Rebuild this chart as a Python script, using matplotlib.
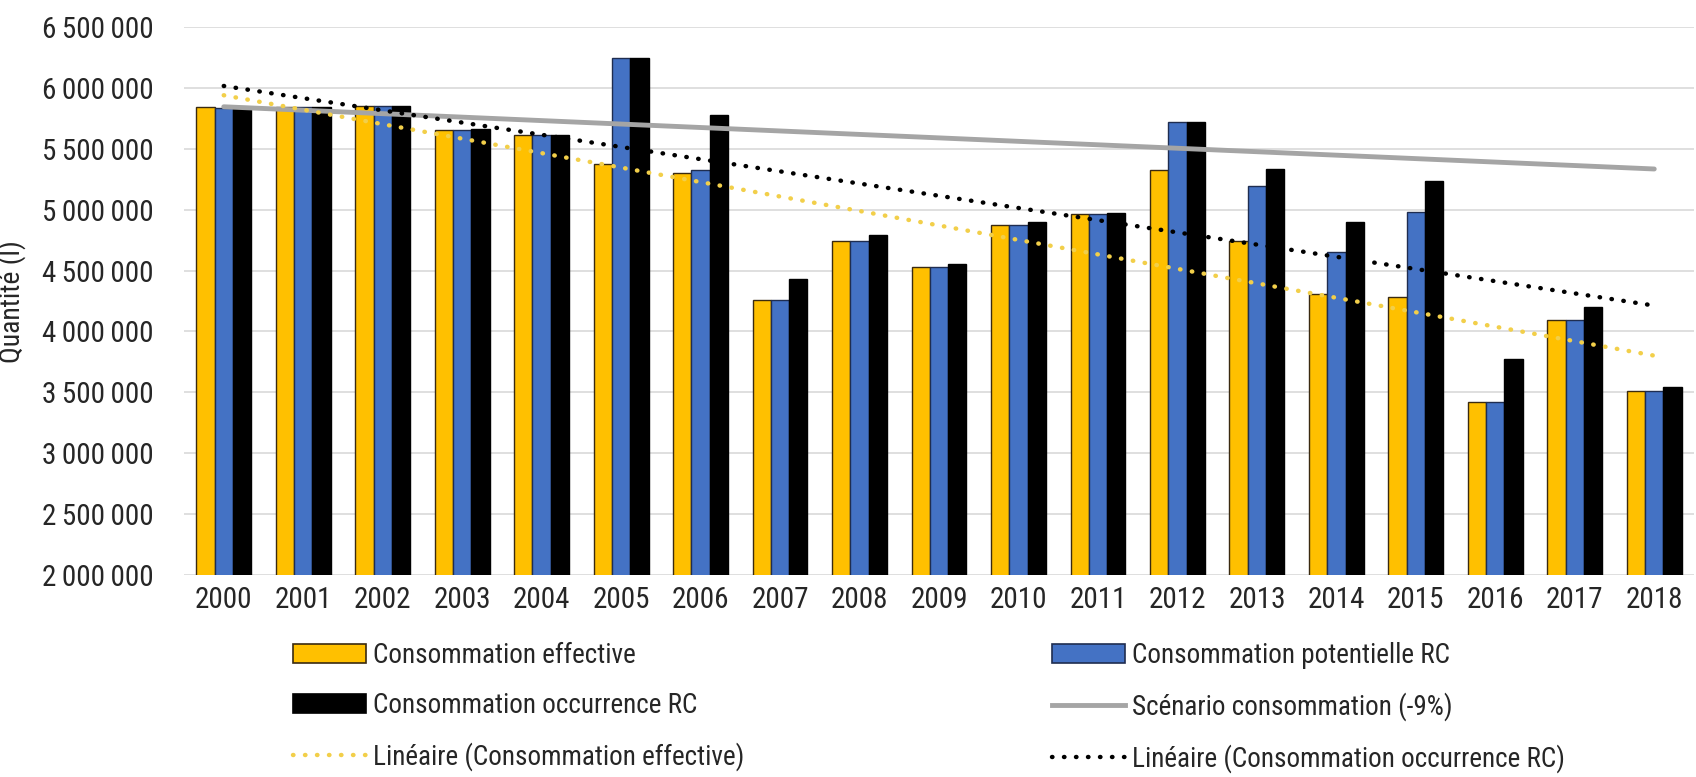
import numpy as np
import matplotlib
matplotlib.use("Agg")
import matplotlib.pyplot as plt
from matplotlib.patches import Patch
from matplotlib.lines import Line2D

plt.rcParams['font.family'] = ['Roboto Condensed', 'Liberation Sans Narrow', 'DejaVu Sans Condensed', 'Roboto', 'DejaVu Sans']

years = [str(y) for y in range(2000, 2019)]
conso_effective = [5840000, 5845000, 5855000, 5654000, 5616000, 5375000, 5299000, 4258000, 4745000, 4532000,
                   4874000, 4962000, 5326000, 4745000, 4308000, 4280000, 3418000, 4094000, 3511000]
conso_potentielle = [5835000, 5845000, 5855000, 5654000, 5612000, 6243000, 5326000, 4258000, 4745000, 4532000,
                     4874000, 4962000, 5717000, 5194000, 4655000, 4984000, 3418000, 4094000, 3511000]
conso_occurrence = [5835000, 5845000, 5855000, 5660000, 5616000, 6243000, 5778000, 4428000, 4789000, 4551000,
                    4896000, 4970000, 5717000, 5331000, 4896000, 5238000, 3771000, 4203000, 3544000]
scenario_years_idx = [0, 18]
scenario_values = [5845000, 5334000]

y_ticks = [2000000, 2500000, 3000000, 3500000, 4000000, 4500000, 5000000, 5500000, 6000000, 6500000]

YELLOW = '#FFC000'
BLUE = '#4472C4'
BLACK = '#000000'
GREY = '#A5A5A5'
TXT = '#262626'
DOT = (0, (0.1, 2.6))

fig = plt.figure(figsize=(16.96, 7.77), dpi=100)
ax = fig.add_axes([184/1696, 1-575/777, 1510/1696, (575-27)/777])

x = np.arange(len(years))
w = 0.23
ec = '#3a2a10'
ax.bar(x - w, conso_effective, w, color=YELLOW, edgecolor=ec, linewidth=1.0, zorder=2)
ax.bar(x, conso_potentielle, w, color=BLUE, edgecolor='#1f2d50', linewidth=1.0, zorder=2)
ax.bar(x + w, conso_occurrence, w, color=BLACK, edgecolor=BLACK, linewidth=1.0, zorder=2)

ax.plot(scenario_years_idx, scenario_values, color=GREY, linewidth=3.5, solid_capstyle='round', zorder=3)

# Linear trendlines (least squares, like Excel)
pe = np.polyfit(x, conso_effective, 1)
po = np.polyfit(x, conso_occurrence, 1)
ax.plot(x, np.polyval(pe, x), color='#F2CF4A', linestyle=DOT, linewidth=3.2,
        dash_capstyle='round', zorder=4)
ax.plot(x, np.polyval(po, x), color=BLACK, linestyle=DOT, linewidth=3.2,
        dash_capstyle='round', zorder=4)

ax.set_xlim(-0.5, len(years) - 0.5)
ax.set_ylim(2000000, 6500000)
ax.set_yticks(y_ticks)
ax.set_yticklabels([f"{v:,}".replace(",", "\u2009") for v in y_ticks])
ax.set_xticks(x)
ax.set_xticklabels(years)
ax.grid(axis='y', color='#D9D9D9', linewidth=1.2, zorder=0)
ax.set_axisbelow(True)
for s in ax.spines.values():
    s.set_visible(False)
ax.tick_params(axis='both', length=0, labelsize=21, colors=TXT)
ax.tick_params(axis='y', pad=22)
ax.tick_params(axis='x', pad=8)
ax.set_ylabel('Quantité (l)', fontsize=20, color=TXT, labelpad=8)
ax.yaxis.set_label_coords(-(184 - 26) / 1510, (575 - 302) / 548)

h1 = [Patch(facecolor=YELLOW, edgecolor=ec, linewidth=1.2),
      Patch(facecolor=BLACK, edgecolor=BLACK, linewidth=1.2),
      Line2D([0], [0], color='#F2CF4A', linestyle=DOT, linewidth=3.2, dash_capstyle='round')]
l1 = ['Consommation effective', 'Consommation occurrence RC', 'Linéaire (Consommation effective)']
h2 = [Patch(facecolor=BLUE, edgecolor='#1f2d50', linewidth=1.2),
      Line2D([0], [0], color=GREY, linewidth=3.5),
      Line2D([0], [0], color=BLACK, linestyle=DOT, linewidth=3.2, dash_capstyle='round')]
l2 = ['Consommation potentielle RC', 'Scénario consommation (-9%)', 'Linéaire (Consommation occurrence RC)']

common = dict(frameon=False, fontsize=19.5, handlelength=2.7, handleheight=0.72, handletextpad=0.25,
              labelspacing=0.85, borderaxespad=0, borderpad=0, labelcolor=TXT)
fig.legend(h1, l1, loc='upper left', bbox_to_anchor=(293/1696, 1-642/777), **common)
fig.legend(h2, l2, loc='upper left', bbox_to_anchor=(1052/1696, 1-642/777), **common)

fig.savefig('out.png', dpi=100)
